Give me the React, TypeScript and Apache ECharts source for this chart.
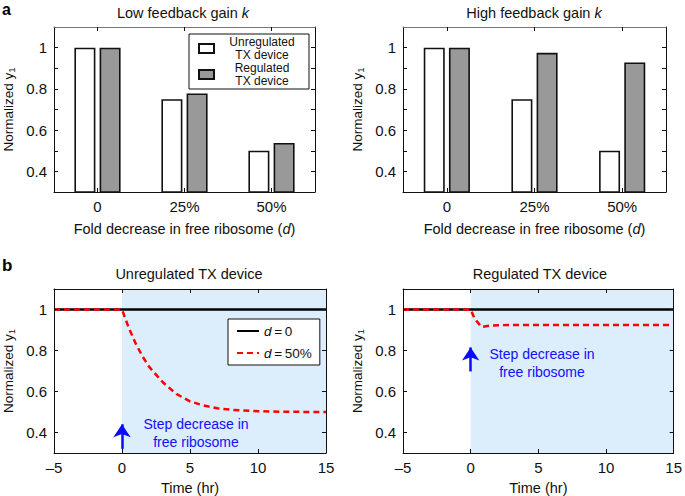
import React, { useEffect, useRef } from "react";
import * as echarts from "echarts";

const FONT = "'Liberation Sans', Arial, Helvetica, sans-serif";

// Panel a: bar data
const barCategories = ["0", "25%", "50%"];
const lowGainUnregulated = [1, 0.75, 0.5];
const lowGainRegulated = [1, 0.778, 0.538];
const highGainUnregulated = [1, 0.75, 0.5];
const highGainRegulated = [1, 0.975, 0.928];

// Panel b: time courses [time (hr), normalized y1]
const noDecreaseCurve = [[-5, 1], [15, 1]];
const unregulatedStepCurve = [
  [-5, 1], [0, 1], [0.5, 0.91], [1, 0.835], [1.5, 0.772], [2, 0.72], [3, 0.645],
  [4, 0.588], [5, 0.552], [6, 0.532], [7, 0.518], [8, 0.511], [10, 0.504], [12, 0.501], [15, 0.5],
];
const regulatedStepCurve = [
  [-5, 1], [0, 1], [0.3, 0.955], [0.8, 0.915], [1.5, 0.922], [3, 0.925], [15, 0.925],
];

// Ticks
const yLabelValues = [0.4, 0.6, 0.8, 1];
const yFineTicks = [0.4, 0.5, 0.6, 0.7, 0.8, 0.9, 1.0];

const AX = "#111";
const TICK_FS = 15;
const NAME_FS = 14.5;

function yAxes(gridIndex: number, ticks: number[]) {
  return [
    {
      type: "value", gridIndex, min: 0.3, max: 1.1, position: "left", z: 5,
      name: "Normalized {n|y}{s|1}", nameLocation: "middle", nameGap: 38,
      nameTextStyle: {
        fontFamily: FONT, fontSize: 13.5, color: "#111",
        rich: { n: { fontFamily: FONT, fontSize: 13.5, color: "#111" }, s: { fontFamily: FONT, fontSize: 9.5, color: "#111", verticalAlign: "bottom", padding: [6, 0, 0, 0] } },
      },
      axisLine: { show: true, onZero: false, lineStyle: { color: AX, width: 1 } },
      axisTick: { show: true, inside: true, length: 4, customValues: ticks, lineStyle: { color: AX } },
      axisLabel: { customValues: yLabelValues, fontFamily: FONT, fontSize: TICK_FS, color: "#111", margin: 7, formatter: (v: number) => (v === 1 ? "1" : v.toFixed(1)) },
      splitLine: { show: false },
    },
    {
      type: "value", gridIndex, min: 0.3, max: 1.1, position: "right", z: 5,
      axisLine: { show: true, onZero: false, lineStyle: { color: AX, width: 1 } },
      axisTick: { show: true, inside: true, length: 4, customValues: ticks, lineStyle: { color: AX } },
      axisLabel: { show: false },
      splitLine: { show: false },
    },
  ];
}

function catXAxes(gridIndex: number) {
  return [
    {
      type: "category", gridIndex, data: barCategories, position: "bottom", z: 5,
      name: "Fold decrease in free ribosome ({i|d})", nameLocation: "middle", nameGap: 29,
      nameTextStyle: { fontFamily: FONT, fontSize: NAME_FS, color: "#111", rich: { i: { fontFamily: FONT, fontSize: NAME_FS, fontStyle: "italic", color: "#111" } } },
      axisLine: { show: true, onZero: false, lineStyle: { color: AX } },
      axisTick: { show: true, inside: true, length: 4, alignWithLabel: true, lineStyle: { color: AX } },
      axisLabel: { fontFamily: FONT, fontSize: TICK_FS, color: "#111", margin: 7 },
    },
    {
      type: "category", gridIndex, data: barCategories, position: "top", z: 5,
      axisLine: { show: true, onZero: false, lineStyle: { color: "#777" } },
      axisTick: { show: true, inside: true, length: 4, alignWithLabel: true, lineStyle: { color: AX } },
      axisLabel: { show: false },
    },
  ];
}

function timeXAxes(gridIndex: number) {
  return [
    {
      type: "value", gridIndex, min: -5, max: 15, interval: 5, position: "bottom", z: 5,
      name: "Time (hr)", nameLocation: "middle", nameGap: 27,
      nameTextStyle: { fontFamily: FONT, fontSize: NAME_FS, color: "#111" },
      axisLine: { show: true, onZero: false, lineStyle: { color: AX } },
      axisTick: { show: true, inside: true, length: 4, lineStyle: { color: AX } },
      axisLabel: { fontFamily: FONT, fontSize: TICK_FS, color: "#111", margin: 7, formatter: (v: number) => (v < 0 ? "\u2013" + Math.abs(v) : String(v)) },
      splitLine: { show: false },
    },
    {
      type: "value", gridIndex, min: -5, max: 15, interval: 5, position: "top", z: 5,
      axisLine: { show: true, onZero: false, lineStyle: { color: AX } },
      axisTick: { show: true, inside: true, length: 4, lineStyle: { color: AX } },
      axisLabel: { show: false },
      splitLine: { show: false },
    },
  ];
}

function barSeries(name: string, data: number[], axisBase: number, fill: string) {
  return {
    type: "bar", name, data, xAxisIndex: axisBase, yAxisIndex: axisBase,
    barWidth: 21, barGap: "20%", clip: true,
    itemStyle: { color: fill, borderColor: "#111", borderWidth: 1.6 },
  };
}

function timeSeries(axisBase: number, stepCurve: number[][], arrowFrom: number, arrowTo: number) {
  return [
    {
      type: "line", name: "shade", data: [], xAxisIndex: axisBase, yAxisIndex: axisBase, z: 1, silent: true,
      markArea: { silent: true, itemStyle: { color: "#dcedfb" }, data: [[{ xAxis: 0 }, { xAxis: 15 }]] },
      markLine: {
        silent: true, symbol: ["none", "arrow"], symbolSize: 13, label: { show: false },
        lineStyle: { color: "#0a0aff", width: 2.5, type: "solid" },
        data: [[{ coord: [0, arrowFrom] }, { coord: [0, arrowTo] }]],
      },
    },
    {
      type: "line", name: "d = 0", data: noDecreaseCurve, xAxisIndex: axisBase, yAxisIndex: axisBase, z: 3,
      symbol: "none", lineStyle: { color: "#000", width: 2.6 }, itemStyle: { color: "#000" },
    },
    {
      type: "line", name: "d = 50%", data: stepCurve, xAxisIndex: axisBase, yAxisIndex: axisBase, z: 4,
      symbol: "none", lineStyle: { color: "#ff0000", width: 2.5, type: [6, 4] }, itemStyle: { color: "#ff0000" },
    },
  ];
}

function titleText(x: number, y: number, text: string) {
  return {
    type: "text", x, y, z: 10,
    style: {
      text, fontFamily: FONT, fontSize: 14.5, fill: "#111", align: "center", verticalAlign: "middle",
      rich: { i: { fontFamily: FONT, fontSize: 14.5, fontStyle: "italic", fill: "#111" } },
    },
  };
}

export default function App() {
  const ref = useRef<HTMLDivElement>(null);
  useEffect(() => {
    if (!ref.current) return;
    const chart = echarts.init(ref.current, null, { renderer: "svg" });
    const option: any = {
      animation: false,
      backgroundColor: "#fff",
      grid: [
        { left: 52, top: 27, width: 263, height: 165 },
        { left: 403, top: 27, width: 263, height: 165 },
        { left: 52, top: 289, width: 274, height: 165 },
        { left: 403, top: 289, width: 273, height: 165 },
      ],
      xAxis: [...catXAxes(0), ...catXAxes(1), ...timeXAxes(2), ...timeXAxes(3)],
      yAxis: [...yAxes(0, yFineTicks), ...yAxes(1, yFineTicks), ...yAxes(2, yLabelValues), ...yAxes(3, yLabelValues)],
      legend: [
        {
          data: ["Unregulated TX device", "Regulated TX device"], selectedMode: false,
          left: 189, top: 34, orient: "vertical", icon: "rect",
          backgroundColor: "#fff", borderColor: "#111", borderWidth: 1, padding: [2, 4, 2, 9],
          itemWidth: 15, itemHeight: 9, itemGap: 1,
          formatter: (n: string) => (n === "Unregulated TX device" ? "{c|Unregulated}\n{c|TX device}" : "{c|Regulated}\n{c|TX device}"),
          textStyle: { rich: { c: { width: 86, align: "center", fontFamily: FONT, fontSize: 12, lineHeight: 13, color: "#111" } } },
        },
        {
          data: ["d = 0", "d = 50%"], selectedMode: false,
          left: 228, top: 319, orient: "vertical",
          backgroundColor: "#fff", borderColor: "#111", borderWidth: 1, padding: [5, 8, 5, 8],
          itemWidth: 22, itemHeight: 12, itemGap: 8,
          itemStyle: { opacity: 0 },
          formatter: (n: string) => (n === "d = 0" ? "{i|d}{n|\u2009=\u20090}" : "{i|d}{n|\u2009=\u200950%}"),
          textStyle: {
            rich: {
              i: { fontFamily: FONT, fontSize: 13.5, fontStyle: "italic", color: "#111" },
              n: { fontFamily: FONT, fontSize: 13.5, color: "#111" },
            },
          },
        },
      ],
      series: [
        barSeries("Unregulated TX device", lowGainUnregulated, 0, "#ffffff"),
        barSeries("Regulated TX device", lowGainRegulated, 0, "#999999"),
        barSeries("Unregulated TX device", highGainUnregulated, 2, "#ffffff"),
        barSeries("Regulated TX device", highGainRegulated, 2, "#999999"),
        ...timeSeries(4, unregulatedStepCurve, 0.32, 0.44),
        ...timeSeries(6, regulatedStepCurve, 0.698, 0.815),
      ],
      graphic: [
        { type: "text", x: 2, y: 1, z: 10, style: { text: "a", fontFamily: FONT, fontSize: 16, fontWeight: "bold", fill: "#000", verticalAlign: "top" } },
        { type: "text", x: 2, y: 257, z: 10, style: { text: "b", fontFamily: FONT, fontSize: 17, fontWeight: "bold", fill: "#000" } },
        titleText(183, 13, "Low feedback gain {i|k}"),
        titleText(534, 13, "High feedback gain {i|k}"),
        titleText(189, 274, "Unregulated TX device"),
        titleText(540, 274, "Regulated TX device"),
        {
          type: "text", x: 196, y: 433, z: 10,
          style: { text: "Step decrease in\nfree ribosome", fontFamily: FONT, fontSize: 14, lineHeight: 18, fill: "#1010ff", align: "center", verticalAlign: "middle" },
        },
        {
          type: "text", x: 542, y: 363, z: 10,
          style: { text: "Step decrease in\nfree ribosome", fontFamily: FONT, fontSize: 14, lineHeight: 18, fill: "#1010ff", align: "center", verticalAlign: "middle" },
        },
      ],
    };
    chart.setOption(option);
    return () => chart.dispose();
  }, []);
  return <div ref={ref} style={{ position: "fixed", left: 0, top: 0, width: 685, height: 496 }} />;
}
